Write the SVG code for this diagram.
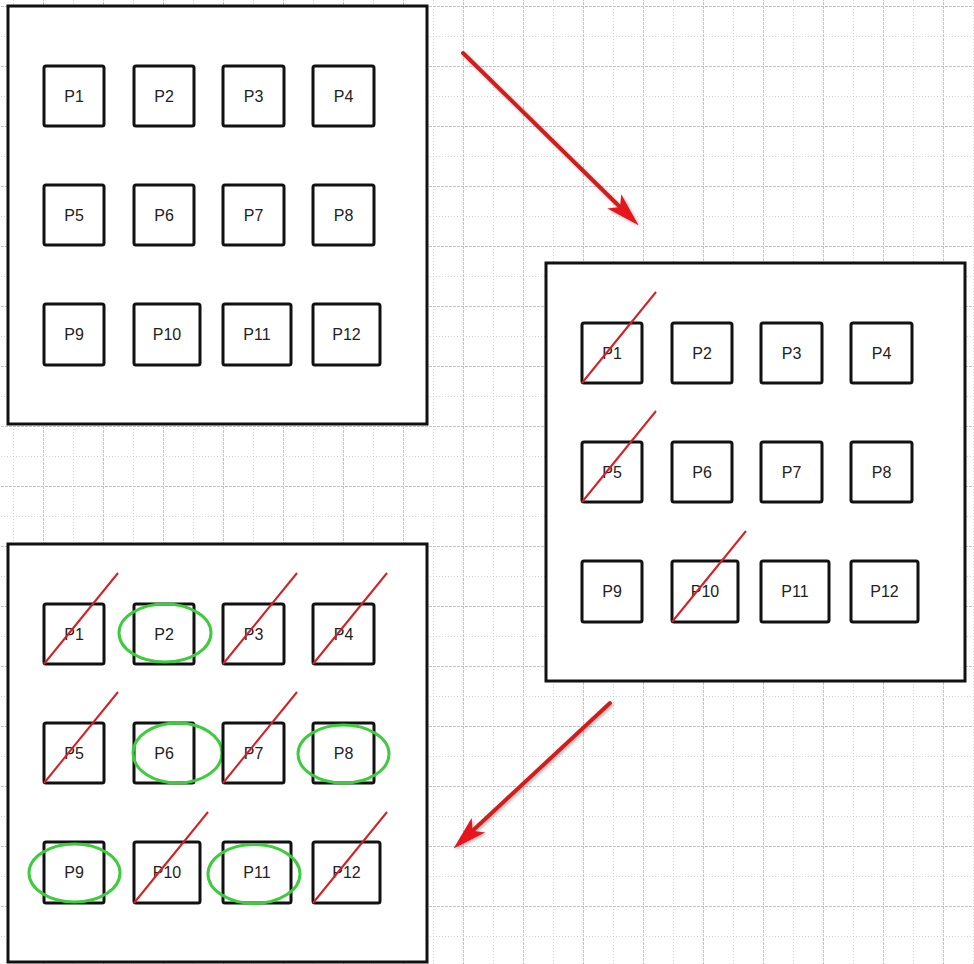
<svg xmlns="http://www.w3.org/2000/svg" width="974" height="964" viewBox="0 0 974 964">
<defs>
<style>
.major{stroke:#c4c4c4;stroke-width:1;stroke-dasharray:3,1;fill:none}
.minor{stroke:#d4d4d4;stroke-width:1;stroke-dasharray:1,2;fill:none}
.panel{fill:#fff;stroke:#111;stroke-width:3}
.box{fill:#fff;stroke:#111;stroke-width:3}
.lbl{font-family:"Liberation Sans",Arial,sans-serif;font-size:16px;fill:#222;text-anchor:middle;dominant-baseline:central}
.slash{stroke:#d42024;stroke-width:2;fill:none}
.ring{stroke:#3ccc3c;stroke-width:3;fill:none}
.conn{stroke:#d41e1e;stroke-width:4;fill:none;stroke-linecap:round;filter:url(#shadow)}
</style>
<pattern id="grid" x="13" y="6" width="60" height="60" patternUnits="userSpaceOnUse">
<path class="minor" d="M0.5 0V60"/>
<path class="major" d="M30.5 0V60"/>
<path class="major" d="M0 0.5H60"/>
<path class="minor" d="M0 30.5H60"/>
</pattern>
<filter id="shadow" x="-20%" y="-20%" width="140%" height="140%">
<feDropShadow dx="1.5" dy="1.5" stdDeviation="1.5" flood-color="#3a5a5a" flood-opacity="0.45"/>
</filter>
<marker id="head" viewBox="0 0 34 22" refX="8" refY="11" markerWidth="34" markerHeight="22" markerUnits="userSpaceOnUse" orient="auto">
<path d="M0,1 L34,11 L0,21 L8,11 Z" fill="#e8141a"/>
</marker>
</defs>
<rect width="974" height="964" fill="#fff"/>
<rect width="974" height="964" fill="url(#grid)"/>

<g id="panel1">
<rect class="panel" x="8" y="6" width="419" height="418"/>
<g id="a-P1"><rect class="box" x="44" y="66" width="60" height="60" rx="2"/><text class="lbl" x="74" y="96">P1</text></g>
<g id="a-P2"><rect class="box" x="134" y="66" width="60" height="60" rx="2"/><text class="lbl" x="164" y="96">P2</text></g>
<g id="a-P3"><rect class="box" x="223" y="66" width="61" height="60" rx="2"/><text class="lbl" x="253.5" y="96">P3</text></g>
<g id="a-P4"><rect class="box" x="313" y="66" width="61" height="60" rx="2"/><text class="lbl" x="343.5" y="96">P4</text></g>
<g id="a-P5"><rect class="box" x="44" y="185" width="60" height="60" rx="2"/><text class="lbl" x="74" y="215">P5</text></g>
<g id="a-P6"><rect class="box" x="134" y="185" width="60" height="60" rx="2"/><text class="lbl" x="164" y="215">P6</text></g>
<g id="a-P7"><rect class="box" x="223" y="185" width="61" height="60" rx="2"/><text class="lbl" x="253.5" y="215">P7</text></g>
<g id="a-P8"><rect class="box" x="313" y="185" width="61" height="60" rx="2"/><text class="lbl" x="343.5" y="215">P8</text></g>
<g id="a-P9"><rect class="box" x="44" y="304" width="60" height="61" rx="2"/><text class="lbl" x="74" y="334.5">P9</text></g>
<g id="a-P10"><rect class="box" x="134" y="304" width="66" height="61" rx="2"/><text class="lbl" x="167" y="334.5">P10</text></g>
<g id="a-P11"><rect class="box" x="223" y="304" width="68" height="61" rx="2"/><text class="lbl" x="257" y="334.5">P11</text></g>
<g id="a-P12"><rect class="box" x="313" y="304" width="67" height="61" rx="2"/><text class="lbl" x="346.5" y="334.5">P12</text></g>
</g>

<g id="panel2" transform="translate(538,257)">
<rect class="panel" x="8" y="6" width="419" height="418"/>
<g id="b-P1"><rect class="box" x="44" y="66" width="60" height="60" rx="2"/><text class="lbl" x="74" y="96">P1</text><path class="slash" d="M44 126L118 35"/></g>
<g id="b-P2"><rect class="box" x="134" y="66" width="60" height="60" rx="2"/><text class="lbl" x="164" y="96">P2</text></g>
<g id="b-P3"><rect class="box" x="223" y="66" width="61" height="60" rx="2"/><text class="lbl" x="253.5" y="96">P3</text></g>
<g id="b-P4"><rect class="box" x="313" y="66" width="61" height="60" rx="2"/><text class="lbl" x="343.5" y="96">P4</text></g>
<g id="b-P5"><rect class="box" x="44" y="185" width="60" height="60" rx="2"/><text class="lbl" x="74" y="215">P5</text><path class="slash" d="M44 245L118 154"/></g>
<g id="b-P6"><rect class="box" x="134" y="185" width="60" height="60" rx="2"/><text class="lbl" x="164" y="215">P6</text></g>
<g id="b-P7"><rect class="box" x="223" y="185" width="61" height="60" rx="2"/><text class="lbl" x="253.5" y="215">P7</text></g>
<g id="b-P8"><rect class="box" x="313" y="185" width="61" height="60" rx="2"/><text class="lbl" x="343.5" y="215">P8</text></g>
<g id="b-P9"><rect class="box" x="44" y="304" width="60" height="61" rx="2"/><text class="lbl" x="74" y="334.5">P9</text></g>
<g id="b-P10"><rect class="box" x="134" y="304" width="66" height="61" rx="2"/><text class="lbl" x="167" y="334.5">P10</text><path class="slash" d="M134 365L208 274"/></g>
<g id="b-P11"><rect class="box" x="223" y="304" width="68" height="61" rx="2"/><text class="lbl" x="257" y="334.5">P11</text></g>
<g id="b-P12"><rect class="box" x="313" y="304" width="67" height="61" rx="2"/><text class="lbl" x="346.5" y="334.5">P12</text></g>
</g>

<g id="panel3" transform="translate(0,538)">
<rect class="panel" x="8" y="6" width="419" height="418"/>
<g id="c-P1"><rect class="box" x="44" y="66" width="60" height="60" rx="2"/><text class="lbl" x="74" y="96">P1</text><path class="slash" d="M44 126L118 35"/></g>
<g id="c-P2"><rect class="box" x="134" y="66" width="60" height="60" rx="2"/><text class="lbl" x="164" y="96">P2</text><ellipse class="ring" cx="165" cy="95" rx="46" ry="29"/></g>
<g id="c-P3"><rect class="box" x="223" y="66" width="61" height="60" rx="2"/><text class="lbl" x="253.5" y="96">P3</text><path class="slash" d="M223 126L297 35"/></g>
<g id="c-P4"><rect class="box" x="313" y="66" width="61" height="60" rx="2"/><text class="lbl" x="343.5" y="96">P4</text><path class="slash" d="M313 126L387 35"/></g>
<g id="c-P5"><rect class="box" x="44" y="185" width="60" height="60" rx="2"/><text class="lbl" x="74" y="215">P5</text><path class="slash" d="M44 245L118 154"/></g>
<g id="c-P6"><rect class="box" x="134" y="185" width="60" height="60" rx="2"/><text class="lbl" x="164" y="215">P6</text><ellipse class="ring" cx="177.5" cy="215" rx="44.5" ry="30"/></g>
<g id="c-P7"><rect class="box" x="223" y="185" width="61" height="60" rx="2"/><text class="lbl" x="253.5" y="215">P7</text><path class="slash" d="M223 245L297 154"/></g>
<g id="c-P8"><rect class="box" x="313" y="185" width="61" height="60" rx="2"/><text class="lbl" x="343.5" y="215">P8</text><ellipse class="ring" cx="343.5" cy="216" rx="45.5" ry="29"/></g>
<g id="c-P9"><rect class="box" x="44" y="304" width="60" height="61" rx="2"/><text class="lbl" x="74" y="334.5">P9</text><ellipse class="ring" cx="74.5" cy="335" rx="45.5" ry="29"/></g>
<g id="c-P10"><rect class="box" x="134" y="304" width="66" height="61" rx="2"/><text class="lbl" x="167" y="334.5">P10</text><path class="slash" d="M134 365L208 274"/></g>
<g id="c-P11"><rect class="box" x="223" y="304" width="68" height="61" rx="2"/><text class="lbl" x="257" y="334.5">P11</text><ellipse class="ring" cx="254" cy="336" rx="46" ry="29.5"/></g>
<g id="c-P12"><rect class="box" x="313" y="304" width="67" height="61" rx="2"/><text class="lbl" x="346.5" y="334.5">P12</text><path class="slash" d="M313 365L387 274"/></g>
</g>

<g id="connectors">
<path class="conn" d="M463 53L620 207" marker-end="url(#head)"/>
<path class="conn" d="M610 703L472.6 830.7" marker-end="url(#head)"/>
</g>
</svg>
